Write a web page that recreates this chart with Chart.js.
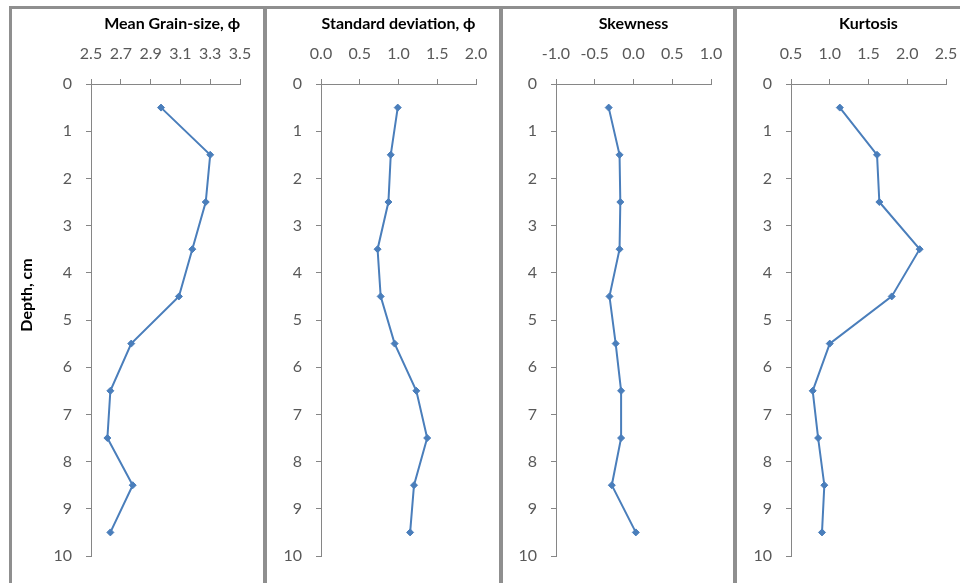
<!DOCTYPE html>
<html>
<head>
<meta charset="utf-8">
<script src="https://cdn.jsdelivr.net/npm/chart.js@4/dist/chart.umd.min.js"></script>
<style>
  body { margin: 0; background: #fff; width: 960px; height: 583px; overflow: hidden; position: relative; }
  canvas { position: absolute; top: 0; }
  .rule { position: absolute; background: #8f8f8f; }
</style>
</head>
<body>
<div class="rule" style="left:9px;top:6px;width:951px;height:3px"></div>
<div class="rule" style="left:9px;top:6px;width:3px;height:577px"></div>
<div class="rule" style="left:263px;top:6px;width:4px;height:577px"></div>
<div class="rule" style="left:499px;top:6px;width:4px;height:577px"></div>
<div class="rule" style="left:733px;top:6px;width:4px;height:577px"></div>

<canvas id="c1" width="251" height="583" style="left:12px"></canvas>
<canvas id="c2" width="232" height="583" style="left:267px"></canvas>
<canvas id="c3" width="230" height="583" style="left:503px"></canvas>
<canvas id="c4" width="223" height="583" style="left:737px"></canvas>

<script>
// ===== DATA =====
const depths = [0.5, 1.5, 2.5, 3.5, 4.5, 5.5, 6.5, 7.5, 8.5, 9.5];
const meanGrain = [2.97, 3.30, 3.27, 3.18, 3.09, 2.77, 2.63, 2.61, 2.78, 2.63];
const stdDev = [0.99, 0.90, 0.87, 0.73, 0.77, 0.95, 1.23, 1.37, 1.20, 1.15];
const skewness = [-0.32, -0.18, -0.17, -0.18, -0.31, -0.23, -0.16, -0.16, -0.28, 0.03];
const kurtosis = [1.13, 1.61, 1.64, 2.16, 1.80, 1.00, 0.78, 0.85, 0.93, 0.90];

const depthTicks = [0, 1, 2, 3, 4, 5, 6, 7, 8, 9, 10];
const meanTicks = [2.5, 2.7, 2.9, 3.1, 3.3, 3.5];
const stdTicks = [0.0, 0.5, 1.0, 1.5, 2.0];
const skewTicks = [-1.0, -0.5, 0.0, 0.5, 1.0];
const kurtTicks = [0.5, 1.0, 1.5, 2.0, 2.5];

const titles = ["Mean Grain-size, \u03d5", "Standard deviation, \u03d5", "Skewness", "Kurtosis"];

const FONT = "Lato, 'Liberation Sans', sans-serif";
const LINE = "#4a7ebb";
const AXIS = "#868686";

// ===== PANEL BUILDER =====
function makePanel(id, values, xTicks, title, yWidth, rightPad, titleAlign, extraPlugins) {
    new Chart(document.getElementById(id), {
        type: "scatter",
        data: {
            datasets: [{
                data: values.map((v, i) => ({ x: v, y: depths[i] })),
                showLine: true,
                borderColor: LINE,
                backgroundColor: LINE,
                borderWidth: 2,
                pointStyle: "rectRot",
                pointRadius: 3.5,
                pointBorderWidth: 1
            }]
        },
        options: {
            responsive: false,
            animation: false,
            layout: { padding: { left: 0, top: 0, right: rightPad, bottom: 27 } },
            plugins: { legend: { display: false }, tooltip: { enabled: false } },
            scales: {
                x: {
                    type: "linear",
                    position: "top",
                    min: xTicks[0],
                    max: xTicks[xTicks.length - 1],
                    afterBuildTicks: s => { s.ticks = xTicks.map(v => ({ value: v })); },
                    afterFit: s => { s.height = 84; s.paddingLeft = 0; s.paddingRight = 0; },
                    ticks: {
                        padding: 16,
                        color: "#595959",
                        font: { family: FONT, size: 16 },
                        maxRotation: 0,
                        autoSkip: false,
                        callback: v => Number(v).toFixed(1)
                    },
                    grid: { drawOnChartArea: false, color: AXIS, tickLength: 5 },
                    border: { color: AXIS },
                    title: {
                        display: true,
                        text: title,
                        align: titleAlign,
                        color: "#000",
                        padding: { top: 14, bottom: 0 },
                        font: { family: FONT, size: 16, weight: "bold" }
                    }
                },
                y: {
                    type: "linear",
                    reverse: true,
                    min: 0,
                    max: 10,
                    afterBuildTicks: s => { s.ticks = depthTicks.map(v => ({ value: v })); },
                    afterFit: s => { s.width = yWidth; },
                    ticks: {
                        padding: 14,
                        color: "#595959",
                        font: { family: FONT, size: 16 },
                        callback: v => String(v)
                    },
                    grid: { drawOnChartArea: false, color: AXIS, tickLength: 5 },
                    border: { color: AXIS }
                }
            }
        },
        plugins: extraPlugins || []
    });
}

// depth axis label on the first panel
const depthLabel = {
    id: "depthLabel",
    afterDraw(chart) {
        const ctx = chart.ctx;
        ctx.save();
        ctx.translate(15, 295);
        ctx.rotate(-Math.PI / 2);
        ctx.font = "bold 16px " + FONT;
        ctx.fillStyle = "#000";
        ctx.textAlign = "center";
        ctx.textBaseline = "middle";
        ctx.fillText("Depth, cm", 0, 0);
        ctx.restore();
    }
};

makePanel("c1", meanGrain, meanTicks, titles[0], 79, 23, "end", [depthLabel]);
makePanel("c2", stdDev, stdTicks, titles[1], 54, 23, "center");
makePanel("c3", skewness, skewTicks, titles[2], 53, 22, "center");
makePanel("c4", kurtosis, kurtTicks, titles[3], 54, 14, "center");
</script>
</body>
</html>
